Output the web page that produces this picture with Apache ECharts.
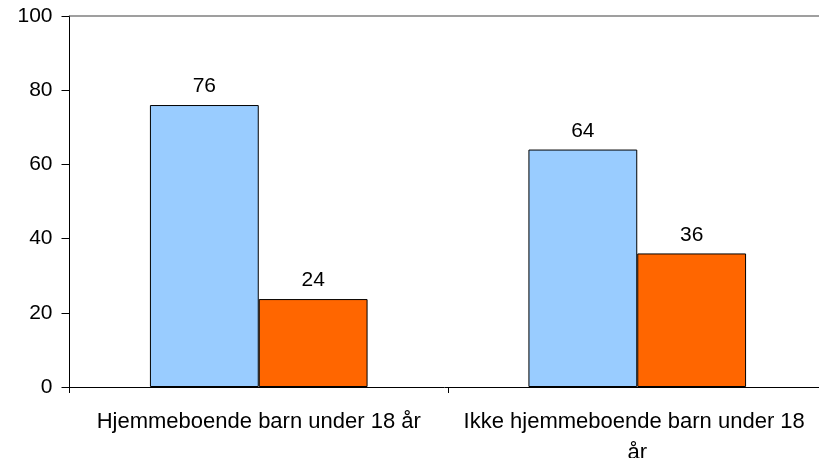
<!DOCTYPE html>
<html><head><meta charset="utf-8">
<script src="https://cdn.jsdelivr.net/npm/echarts@6/dist/echarts.min.js"></script>
<style>html,body{margin:0;padding:0;background:#fff}#c{width:819px;height:458px}</style>
</head><body><div id="c"></div>
<script>
var categories = ['Hjemmeboende barn under 18 år', 'Ikke hjemmeboende barn under 18 år'];
var seriesA = [76, 64];
var seriesB = [23.7, 36];
var yTicks = [0, 20, 40, 60, 80, 100];

var font = '"Liberation Sans", Arial, sans-serif';
var chart = echarts.init(document.getElementById('c'));
chart.setOption({
  animation: false,
  grid: { left: 69.5, top: 16, width: 757, height: 371, containLabel: false, outerBoundsMode: 'none' },
  xAxis: [{
    type: 'category', data: categories,
    axisLine: { lineStyle: { color: '#000', width: 1 } },
    axisTick: { show: true, length: 6, lineStyle: { color: '#000' }, alignWithLabel: false },
    axisLabel: { color: '#000', fontSize: 22, fontFamily: font, margin: 19, width: 352, overflow: 'break', lineHeight: 31, interval: 0 }
  }, {
    type: 'category', data: categories, position: 'top',
    axisLine: { show: true, lineStyle: { color: '#808080', width: 1.5 } },
    axisTick: { show: false }, axisLabel: { show: false }
  }],
  yAxis: {
    type: 'value', min: yTicks[0], max: yTicks[yTicks.length - 1], interval: 20,
    axisLine: { show: true, lineStyle: { color: '#000' } },
    axisTick: { show: true, length: 8, lineStyle: { color: '#000' } },
    splitLine: { show: false },
    axisLabel: { color: '#000', fontSize: 21, fontFamily: font, margin: 17 }
  },
  series: [{
    type: 'bar', data: seriesA, barGap: '0%', barCategoryGap: '42.5%',
    itemStyle: { color: '#99CCFF', borderColor: '#000', borderWidth: 1 },
    label: { show: true, position: 'top', distance: 8, color: '#000', fontSize: 21, fontFamily: font,
      formatter: function (p) { return Math.round(p.value); } }
  }, {
    type: 'bar', data: seriesB,
    itemStyle: { color: '#FF6600', borderColor: '#000', borderWidth: 1 },
    label: { show: true, position: 'top', distance: 8, color: '#000', fontSize: 21, fontFamily: font,
      formatter: function (p) { return Math.round(p.value); } }
  }]
});
</script></body></html>
